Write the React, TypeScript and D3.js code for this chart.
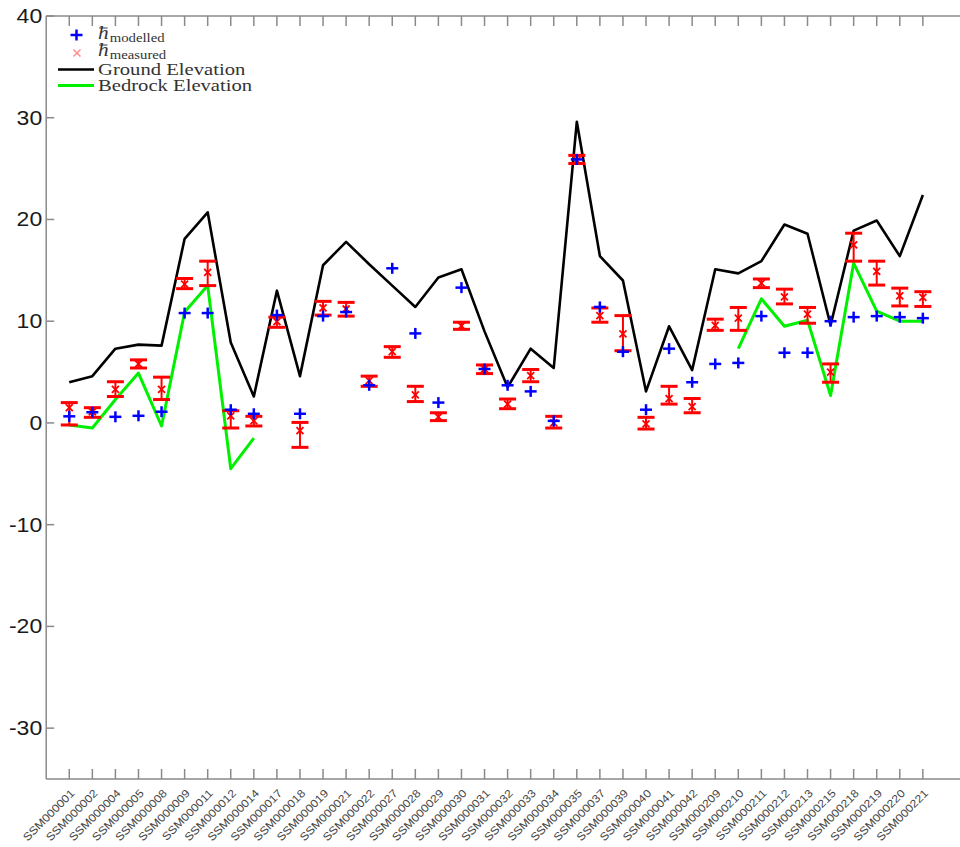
import React from "react";
import * as d3 from "d3";

const categories = [
  "SSM000001","SSM000002","SSM000004","SSM000005","SSM000008","SSM000009","SSM000011","SSM000012",
  "SSM000014","SSM000017","SSM000018","SSM000019","SSM000021","SSM000022","SSM000027","SSM000028",
  "SSM000029","SSM000030","SSM000031","SSM000032","SSM000033","SSM000034","SSM000035","SSM000037",
  "SSM000039","SSM000040","SSM000041","SSM000042","SSM000209","SSM000210","SSM000211","SSM000212",
  "SSM000213","SSM000215","SSM000218","SSM000219","SSM000220","SSM000221",
];

const groundElevation = [
  4.0, 4.6, 7.3, 7.7, 7.6, 18.1, 20.7, 7.9, 2.6, 13.0, 4.6, 15.5, 17.8, 15.6, 13.5, 11.4, 14.3, 15.1, 9.0,
  3.5, 7.3, 5.4, 29.6, 16.4, 14.0, 3.1, 9.5, 5.2, 15.1, 14.7, 15.9, 19.5, 18.6, 9.6, 18.9, 19.9, 16.4, 22.4,
];

const bedrockElevation: (number | null)[] = [
  -0.2, -0.5, 2.3, 4.9, -0.3, 10.9, 13.5, -4.5, -1.5,
  null, null, null, null, null, null, null, null, null, null,
  null, null, null, null, null, null, null, null, null, null,
  7.3, 12.2, 9.5, 10.1, 2.7, 15.7, 11.0, 10.0, 10.0,
];

const modelled = [
  0.65, 1.05, 0.6, 0.7, 1.1, 10.8, 10.8, 1.3, 0.9, 10.6, 0.9, 10.5, 10.9, 3.7, 15.2, 8.8, 2.0, 13.3, 5.3,
  3.7, 3.1, 0.2, 25.9, 11.4, 7.0, 1.3, 7.3, 4.0, 5.8, 5.9, 10.5, 6.9, 6.9, 10.0, 10.4, 10.5, 10.4, 10.3,
];

const measured = [
  1.5, 1.1, 3.3, 5.8, 3.3, 13.65, 14.8, 0.7, 0.2, 9.95, -0.75, 11.3, 11.2, 4.15, 7.0, 2.75, 0.6, 9.55, 5.3,
  1.85, 4.65, 0.0, 25.8, 10.55, 8.75, -0.1, 2.4, 1.6, 9.6, 10.3, 13.75, 12.4, 10.7, 5.0, 17.5, 14.9, 12.5, 12.35,
];

const measuredUpper = [
  2.0, 1.5, 4.05, 6.2, 4.5, 14.2, 15.9, 1.2, 0.65, 10.4, 0.05, 11.95, 11.85, 4.6, 7.5, 3.6, 1.0, 9.9, 5.7,
  2.35, 5.25, 0.65, 26.3, 11.3, 10.55, 0.55, 3.6, 2.4, 10.2, 11.35, 14.15, 13.15, 11.35, 5.8, 18.65, 15.9, 13.25, 12.9,
];

const measuredLower = [
  -0.2, 0.55, 2.6, 5.4, 2.3, 13.2, 13.5, -0.5, -0.3, 9.4, -2.4, 10.6, 10.5, 3.6, 6.45, 2.1, 0.23, 9.2, 4.85,
  1.4, 4.05, -0.5, 25.5, 9.9, 7.1, -0.6, 1.85, 1.0, 9.1, 9.1, 13.3, 11.7, 9.8, 4.0, 15.9, 13.55, 11.5, 11.45,
];

const yTicks = [-30, -20, -10, 0, 10, 20, 30, 40];

const W = 960;
const H = 847;
const left = 46.2;
const right = 969;
const top = 16;
const bottom = 779;
const SX = 1.18;

export default function App() {
  const x = d3.scaleLinear().domain([0, 40]).range([left, right]);
  const y = d3.scaleLinear().domain([-35, 40]).range([bottom, top]);
  const xi = (i: number) => x(i + 1);

  const groundLine = d3
    .line<number>()
    .x((_, i) => xi(i))
    .y((d) => y(d))(groundElevation) as string;

  const bedLine = d3
    .line<number | null>()
    .defined((d) => d !== null)
    .x((_, i) => xi(i))
    .y((d) => y(d as number))(bedrockElevation) as string;

  const axisColor = "#8a8a8a";
  const red = "#ff0000";
  const blue = "#0000ff";
  const green = "#00f000";

  return (
    <svg
      width={W}
      height={H}
      style={{ position: "absolute", left: 0, top: 0, background: "#fff" }}
    >
      <rect x={0} y={0} width={W} height={H} fill="#fff" />
      {/* frame */}
      <line x1={left} x2={right} y1={top} y2={top} stroke={axisColor} strokeWidth={1.5} />
      <line x1={left} x2={right} y1={bottom} y2={bottom} stroke={axisColor} strokeWidth={1.5} />
      <line x1={left} x2={left} y1={top} y2={bottom} stroke={axisColor} strokeWidth={1.5} />
      <line x1={right} x2={right} y1={top} y2={bottom} stroke={axisColor} strokeWidth={1.5} />

      {/* y ticks & labels */}
      {yTicks.map((t) => (
        <g key={"yt" + t}>
          <line x1={left} x2={left + 8} y1={y(t)} y2={y(t)} stroke={axisColor} strokeWidth={1.5} />
          <line x1={right} x2={right - 8} y1={y(t)} y2={y(t)} stroke={axisColor} strokeWidth={1.5} />
          <g transform={`translate(${left - 4},${y(t) + 7}) scale(${SX},1)`}>
            <text
              x={0}
              y={0}
              textAnchor="end"
              fontFamily="'Liberation Sans', Arial, sans-serif"
              fontSize={19.5}
              fill="#1a1a1a"
            >
              {t}
            </text>
          </g>
        </g>
      ))}

      {/* x ticks & labels */}
      {categories.map((c, i) => (
        <g key={"xt" + c}>
          <line x1={xi(i)} x2={xi(i)} y1={bottom} y2={bottom - 10} stroke={axisColor} strokeWidth={1.5} />
          <line x1={xi(i)} x2={xi(i)} y1={top} y2={top + 10} stroke={axisColor} strokeWidth={1.5} />
          <g transform={`translate(${xi(i) + 6},${bottom + 15}) rotate(-45) scale(1.12,1)`}>
            <text
              x={0}
              y={0}
              textAnchor="end"
              fontFamily="'Liberation Sans', Arial, sans-serif"
              fontSize={11}
              fill="#444"
            >
              {c}
            </text>
          </g>
        </g>
      ))}

      {/* lines */}
      <path d={groundLine} fill="none" stroke="#000" strokeWidth={2.6} strokeLinejoin="round" />
      <path d={bedLine} fill="none" stroke={green} strokeWidth={3} strokeLinejoin="round" />

      {/* measured error bars */}
      {measured.map((m, i) => {
        const cx = xi(i);
        const yu = y(measuredUpper[i]);
        const yl = y(measuredLower[i]);
        const ym = y(m);
        return (
          <g key={"m" + i} stroke={red}>
            <line x1={cx} x2={cx} y1={yu} y2={yl} strokeWidth={2} />
            <line x1={cx - 8.5} x2={cx + 8.5} y1={yu} y2={yu} strokeWidth={3} />
            <line x1={cx - 8.5} x2={cx + 8.5} y1={yl} y2={yl} strokeWidth={3} />
            <line x1={cx - 3.5} x2={cx + 3.5} y1={ym - 3.5} y2={ym + 3.5} strokeWidth={1.8} />
            <line x1={cx - 3.5} x2={cx + 3.5} y1={ym + 3.5} y2={ym - 3.5} strokeWidth={1.8} />
          </g>
        );
      })}

      {/* modelled plus markers */}
      {modelled.map((v, i) => {
        const cx = xi(i);
        const cy = y(v);
        return (
          <g key={"p" + i} stroke={blue} strokeWidth={2.5}>
            <line x1={cx - 6} x2={cx + 6} y1={cy} y2={cy} />
            <line x1={cx} x2={cx} y1={cy - 5.5} y2={cy + 5.5} />
          </g>
        );
      })}

      {/* legend */}
      <g>
        <g stroke={blue} strokeWidth={2.5}>
          <line x1={70.5} x2={82.5} y1={35} y2={35} />
          <line x1={76.5} x2={76.5} y1={29.5} y2={40.5} />
        </g>
        <g stroke="#ff8a8a" strokeWidth={1.5}>
          <line x1={73.5} x2={80.5} y1={49.5} y2={56.5} />
          <line x1={73.5} x2={80.5} y1={56.5} y2={49.5} />
        </g>
        <line x1={58} x2={94} y1={69.5} y2={69.5} stroke="#000" strokeWidth={2.6} />
        <line x1={58} x2={94} y1={85.5} y2={85.5} stroke={green} strokeWidth={3} />

        <g transform={`translate(98,39) scale(${SX},1)`} fill="#333" fontFamily="'Liberation Serif', 'Times New Roman', serif">
          <text x={0} y={0} fontSize={18} fontStyle="italic">h</text>
          <line x1={1} x2={8} y1={-11} y2={-11} stroke="#333" strokeWidth={1} />
          <text x={10} y={3} fontSize={12.5}>modelled</text>
        </g>
        <g transform={`translate(98,56) scale(${SX},1)`} fill="#333" fontFamily="'Liberation Serif', 'Times New Roman', serif">
          <text x={0} y={0} fontSize={18} fontStyle="italic">h</text>
          <line x1={1} x2={8} y1={-11} y2={-11} stroke="#333" strokeWidth={1} />
          <text x={10} y={3} fontSize={12.5}>measured</text>
        </g>
        <g transform={`translate(98,75) scale(${SX},1)`}>
          <text x={0} y={0} fontSize={17.5} fill="#333" fontFamily="'Liberation Serif', 'Times New Roman', serif">
            Ground Elevation
          </text>
        </g>
        <g transform={`translate(98,91) scale(${SX},1)`}>
          <text x={0} y={0} fontSize={17.5} fill="#333" fontFamily="'Liberation Serif', 'Times New Roman', serif">
            Bedrock Elevation
          </text>
        </g>
      </g>
    </svg>
  );
}
